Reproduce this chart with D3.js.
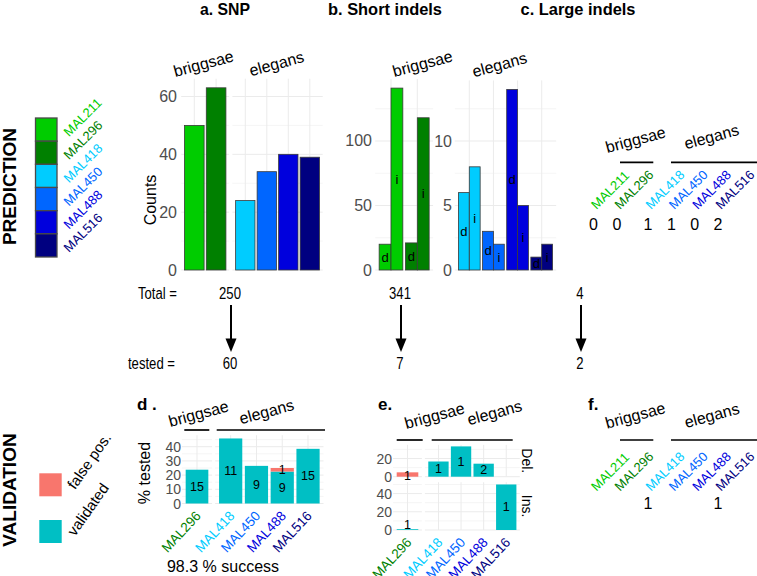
<!DOCTYPE html>
<html><head><meta charset="utf-8">
<script src="https://cdn.jsdelivr.net/npm/d3@7"></script>
<style>html,body{margin:0;padding:0;background:#fff;} svg{display:block}</style>
</head><body>
<svg id="c" width="757" height="576"></svg>
<script>
// ---------------- DATA ----------------
const strains = ["MAL211","MAL296","MAL418","MAL450","MAL488","MAL516"];
const strainSpecies = ["briggsae","briggsae","elegans","elegans","elegans","elegans"];
const speciesList = ["briggsae","elegans"];
const strainColors = ["#00CC00","#008000","#00CCFF","#0066FF","#0000DD","#000080"];

const snpCounts = [50,63,24,34,40,39];
const indelTypes = ["d","i"];
const shortDel = [20,21,6,3,14,1];
const shortIns = [141,118,8,2,5,2];
const largeCounts = [0,0,1,1,0,2];

const columnTitles = ["a. SNP","b. Short indels","c. Large indels"];
const totalLabels = ["250","341","4"];
const testedLabels = ["60","7","2"];

const valStrains = ["MAL296","MAL418","MAL450","MAL488","MAL516"];
const snpValidatedPct = [23.8,45.8,26.5,22.5,38.5];
const snpFalsePct = [0,0,0,2.5,0];
const snpValidatedN = [15,11,9,9,15];
const snpFalseN = [0,0,0,1,0];
const snpSuccess = "98.3 % success";

const indelRows = ["Del.","Ins."];
const delValidatedPct = [0,16.7,33.3,14.3,0];
const delFalsePct = [4.8,0,0,0,0];
const delValidatedN = [0,1,1,2,0];
const delFalseN = [1,0,0,0,0];
const insValidatedPct = [0.85,0,0,0,50];
const insValidatedN = [1,0,0,0,1];

const largeTested = [0,0,1,0,0,1];

const validationKeys = ["false pos.","validated"];
const validationColors = ["#F8766D","#00BFC4"];

const snpTicks = [0,20,40,60];
const shortTicksB = [0,50,100];
const shortTicksE = [0,5,10];
const pctTicks = [0,10,20,30,40];
const delTicks = [0,20];
const insTicks = [0,20,40];

// ---------------- HELPERS ----------------
const svg = d3.select("#c");
svg.append("rect").attr("width",757).attr("height",576).attr("fill","#fff");
const FONT = "'Liberation Sans', Arial, Helvetica, sans-serif";
const GRID = "#EBEBEB", TICKC = "#4D4D4D";
const colorOf = d3.scaleOrdinal().domain(strains).range(strainColors);
const speciesOf = s => strainSpecies[strains.indexOf(s)];

function txt(x, y, s, o = {}) {
  let tr = `translate(${x},${y})`;
  if (o.sx) tr += ` scale(${o.sx},1)`;
  if (o.rot) tr += ` rotate(${o.rot})`;
  const t = svg.append("text").attr("transform", tr).text(s)
    .attr("font-family", o.family || FONT).attr("font-size", o.size || 14)
    .attr("fill", o.fill || "#000").attr("text-anchor", o.anchor || "start");
  if (o.weight) t.attr("font-weight", o.weight);
  if (o.db) t.attr("dominant-baseline", o.db);
  if (o.len) t.attr("textLength", o.len).attr("lengthAdjust", "spacingAndGlyphs");
  return t;
}
function hline(x1, x2, y, c, w) {
  svg.append("line").attr("x1",x1).attr("x2",x2).attr("y1",y).attr("y2",y).attr("stroke",c).attr("stroke-width",w);
}
function vline(x, y1, y2, c, w) {
  svg.append("line").attr("x1",x).attr("x2",x).attr("y1",y1).attr("y2",y2).attr("stroke",c).attr("stroke-width",w);
}
function band(dom, r) {
  return d3.scaleBand().domain(dom).range(r).paddingInner(0.1).paddingOuter(0.15);
}
function panelGrid(xS, yS, major) {
  const [x0, x1] = xS.range();
  const [yb, yt] = yS.range();
  const step = major[1] - major[0];
  const top = yS.domain()[1];
  major.map(v => v + step / 2)
    .filter(v => v <= top)
    .forEach(v => hline(x0, x1, yS(v), GRID, 0.5));
  major.forEach(v => hline(x0, x1, yS(v), GRID, 1));
  xS.domain().forEach(s => vline(xS(s) + xS.bandwidth()/2, yt, yb, GRID, 1));
}
function yTicks(yS, ticks, xEnd, size) {
  ticks.forEach(v => txt(xEnd, yS(v), String(v), {anchor:"end", fill:TICKC, size:size||16, db:"central"}));
}
function strip(x, y, s) { txt(x, y + 4, s, {anchor:"middle", size:16, rot:-15}); }
const brig = strains.filter(s => speciesOf(s) === "briggsae");
const eleg = strains.filter(s => speciesOf(s) === "elegans");

// ---------------- TITLES ----------------
const titleX = [225, 385, 578], titleLen = [50, 114, 115];
columnTitles.forEach((t, i) => txt(titleX[i], 14.5, t, {anchor:"middle", size:17, weight:"bold", len:titleLen[i]}));

// ---------------- PREDICTION LEGEND ----------------
txt(16, 186.5, "PREDICTION", {anchor:"middle", size:19, weight:"bold", rot:-90});
const legY = d3.scaleBand().domain(strains).range([118, 257]);
strains.forEach(s => {
  svg.append("rect").attr("x",35.5).attr("y",legY(s)).attr("width",21.5).attr("height",legY.bandwidth())
    .attr("fill",colorOf(s)).attr("stroke","#4a4a4a").attr("stroke-width",1.3);
  txt(69, legY(s) + legY.bandwidth() - 4, s, {size:13, rot:-45, fill:colorOf(s)});
});

// ---------------- PANEL a : SNP ----------------
const aY = d3.scaleLinear().domain([0, 66.15]).range([270, 78.7]);
const aX = {briggsae: band(brig, [181.2, 229.2]), elegans: band(eleg, [232.4, 322.7])};
speciesList.forEach(sp => panelGrid(aX[sp], aY, snpTicks));
yTicks(aY, snpTicks, 177);
txt(156, 200, "Counts", {anchor:"middle", size:16, rot:-90});
strains.forEach((s, i) => {
  const x = aX[speciesOf(s)];
  svg.append("rect").attr("x", x(s)).attr("width", x.bandwidth())
    .attr("y", aY(snpCounts[i])).attr("height", aY(0) - aY(snpCounts[i]))
    .attr("fill", colorOf(s)).attr("stroke", "#3a3a3a").attr("stroke-width", 0.8);
});
strip(205, 65, "briggsae"); strip(278, 65, "elegans");

// ---------------- PANEL b : Short indels ----------------
const bY = {briggsae: d3.scaleLinear().domain([0, 148.05]).range([270, 79]),
            elegans: d3.scaleLinear().domain([0, 14.7]).range([270, 80.4])};
const bX = {briggsae: band(brig, [375.2, 433.1]), elegans: band(eleg, [454.8, 556.2])};
const bTicks = {briggsae: shortTicksB, elegans: shortTicksE};
const bTickX = {briggsae: 372, elegans: 452};
speciesList.forEach(sp => { panelGrid(bX[sp], bY[sp], bTicks[sp]); yTicks(bY[sp], bTicks[sp], bTickX[sp]); });
strains.forEach((s, i) => {
  const sp = speciesOf(s), x = bX[sp], y = bY[sp];
  const inner = d3.scaleBand().domain(indelTypes).range([0, x.bandwidth()]);
  [shortDel[i], shortIns[i]].forEach((v, k) => {
    const t = indelTypes[k];
    svg.append("rect").attr("x", x(s) + inner(t)).attr("width", inner.bandwidth())
      .attr("y", y(v)).attr("height", y(0) - y(v))
      .attr("fill", colorOf(s)).attr("stroke", "#3a3a3a").attr("stroke-width", 0.8);
    txt(x(s) + inner(t) + inner.bandwidth()/2, (y(v) + y(0))/2, t, {anchor:"middle", size:13, db:"central"});
  });
});
strip(424, 65, "briggsae"); strip(501, 66, "elegans");

// ---------------- TOTALS / ARROWS ----------------
const colX = [230, 400, 580];
txt(177, 299, "Total =", {anchor:"end", size:16, sx:0.82});
txt(175, 369, "tested =", {anchor:"end", size:16, sx:0.82});
colX.forEach((x, i) => {
  txt(x, 299, totalLabels[i], {anchor:"middle", size:16, sx:0.82});
  txt(x, 369, testedLabels[i], {anchor:"middle", size:16, sx:0.82});
  vline(x + 1, 305, 340, "#000", 2);
  svg.append("path").attr("d", `M${x+1-5.5},338.5 L${x+1+5.5},338.5 L${x+1},352 Z`).attr("fill","#000");
});

// ---------------- PANEL c : Large indels ----------------
const cX = {briggsae: d3.scalePoint().domain(brig).range([593.5, 617]),
            elegans: d3.scalePoint().domain(eleg).range([648, 718])};
const stripLines = {briggsae:[620, 653.3], elegans:[671, 757]};
strip(637, 141, "briggsae"); strip(713, 138, "elegans");
speciesList.forEach(sp => hline(stripLines[sp][0], stripLines[sp][1], 162.3, "#000", 1.7));
strains.forEach((s, i) => {
  const x = cX[speciesOf(s)](s);
  txt(x + 3, 210, s, {size:13, rot:-45, fill:colorOf(s)});
  txt(x, 230, String(largeCounts[i]), {anchor:"middle", size:16});
});

// ---------------- VALIDATION LEGEND ----------------
txt(16, 490, "VALIDATION", {anchor:"middle", size:19, weight:"bold", rot:-90});
const vKeyY = [473.3, 520];
validationKeys.forEach((k, i) => {
  svg.append("rect").attr("x", 39.3).attr("y", vKeyY[i]).attr("width", 22.4).attr("height", 23)
    .attr("fill", validationColors[i]);
  txt(75, vKeyY[i] + 17, k, {size:15, rot:-55});
});

// ---------------- PANEL d : SNP validation ----------------
const valBrig = valStrains.filter(s => speciesOf(s) === "briggsae");
const valEleg = valStrains.filter(s => speciesOf(s) === "elegans");
txt(137, 410, "d .", {size:17, weight:"bold"});
const dY = d3.scaleLinear().domain([0, 48.1]).range([503.5, 435.2]);
const dX = {briggsae: band(valBrig, [181.9, 212.1]), elegans: band(valEleg, [215.2, 323.5])};
speciesList.forEach(sp => panelGrid(dX[sp], dY, pctTicks));
yTicks(dY, pctTicks, 181, 14);
txt(150, 473, "% tested", {anchor:"middle", size:16, rot:-90});
strip(200, 415, "briggsae"); strip(268, 413, "elegans");
hline(184.3, 209.3, 430, "#000", 1.7); hline(216.7, 325, 430, "#000", 1.7);
valStrains.forEach((s, i) => {
  const x = dX[speciesOf(s)], cx = x(s) + x.bandwidth()/2;
  const v = snpValidatedPct[i], f = snpFalsePct[i];
  svg.append("rect").attr("x", x(s)).attr("width", x.bandwidth()).attr("y", dY(v)).attr("height", dY(0) - dY(v)).attr("fill", validationColors[1]);
  if (f > 0) svg.append("rect").attr("x", x(s)).attr("width", x.bandwidth()).attr("y", dY(v + f)).attr("height", dY(v) - dY(v + f)).attr("fill", validationColors[0]);
  if (snpValidatedN[i]) txt(cx, (dY(v) + dY(0))/2, String(snpValidatedN[i]), {anchor:"middle", size:12.5, db:"central"});
  if (snpFalseN[i]) txt(cx, (dY(v + f) + dY(v))/2, String(snpFalseN[i]), {anchor:"middle", size:12.5, db:"central"});
  txt(cx + 4.7, 516.5, s, {anchor:"end", size:13.5, rot:-47, fill:colorOf(s)});
});
txt(223, 572, snpSuccess, {anchor:"middle", size:16});

// ---------------- PANEL e : Short indel validation ----------------
txt(378, 410, "e.", {size:17, weight:"bold"});
const eY = {"Del.": d3.scaleLinear().domain([0, 35]).range([476.7, 444.85]),
            "Ins.": d3.scaleLinear().domain([0, 52.5]).range([530, 482.2])};
const eTicks = {"Del.": delTicks, "Ins.": insTicks};
const eX = {briggsae: band(valBrig, [393.1, 421.9]), elegans: band(valEleg, [424.9, 519.8])};
indelRows.forEach(r => { speciesList.forEach(sp => panelGrid(eX[sp], eY[r], eTicks[r])); yTicks(eY[r], eTicks[r], 392, 14); });
strip(436, 417, "briggsae"); strip(496, 414, "elegans");
hline(396.7, 422.7, 440, "#000", 1.7); hline(431.7, 512.7, 440, "#000", 1.7);
txt(526.7, (eY["Del."](0) + eY["Del."].range()[1])/2, "Del.", {anchor:"middle", size:14, rot:90, db:"central"});
txt(526.7, (eY["Ins."](0) + eY["Ins."].range()[1])/2, "Ins.", {anchor:"middle", size:14, rot:90, db:"central"});
const eRowsData = {"Del.": [delValidatedPct, delFalsePct, delValidatedN, delFalseN],
                   "Ins.": [insValidatedPct, valStrains.map(() => 0), insValidatedN, valStrains.map(() => 0)]};
valStrains.forEach((s, i) => {
  const x = eX[speciesOf(s)], cx = x(s) + x.bandwidth()/2;
  indelRows.forEach(r => {
    const y = eY[r], [vp, fp, vn, fn] = eRowsData[r];
    const v = vp[i], f = fp[i];
    if (v > 0) svg.append("rect").attr("x", x(s)).attr("width", x.bandwidth()).attr("y", y(v)).attr("height", y(0) - y(v)).attr("fill", validationColors[1]);
    if (f > 0) svg.append("rect").attr("x", x(s)).attr("width", x.bandwidth()).attr("y", y(v + f)).attr("height", y(v) - y(v + f)).attr("fill", validationColors[0]);
    if (vn[i]) txt(cx, Math.min((y(v) + y(0))/2, y(0) - 5), String(vn[i]), {anchor:"middle", size:12.5, db:"central"});
    if (fn[i]) txt(cx, (y(v + f) + y(v))/2 + 1, String(fn[i]), {anchor:"middle", size:12.5, db:"central"});
  });
  txt(cx + 5, 543, s, {anchor:"end", size:13.5, rot:-47, fill:colorOf(s)});
});

// ---------------- PANEL f : Large indel validation ----------------
txt(588, 410, "f.", {size:17, weight:"bold"});
strip(636.7, 416.7, "briggsae"); strip(713.3, 416.7, "elegans");
speciesList.forEach(sp => hline(stripLines[sp][0], stripLines[sp][1], 440, "#000", 1.7));
strains.forEach((s, i) => {
  const x = cX[speciesOf(s)](s);
  txt(x + 3, 491.7, s, {size:13, rot:-45, fill:colorOf(s)});
  if (largeTested[i]) txt(x, 509, String(largeTested[i]), {anchor:"middle", size:16});
});
</script>
</body></html>
